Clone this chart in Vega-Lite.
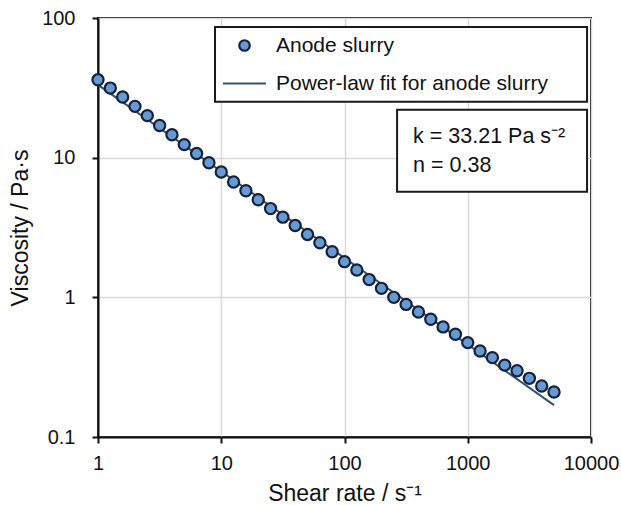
{
  "$schema": "https://vega.github.io/schema/vega-lite/v6.json",
  "width": 493,
  "height": 419,
  "autosize": {"type": "none"},
  "padding": {"left": 98, "top": 18, "right": 30, "bottom": 68},
  "background": "white",
  "config": {
    "font": "Liberation Sans",
    "view": {"stroke": "#111111", "strokeWidth": 2},
    "axis": {
      "labelFont": "Liberation Sans",
      "titleFont": "Liberation Sans",
      "labelFontSize": 20,
      "labelColor": "#111111",
      "titleFontSize": 23,
      "titleFontWeight": "normal",
      "titleColor": "#111111",
      "tickColor": "#111111",
      "tickSize": 6,
      "tickWidth": 2,
      "domainColor": "#111111",
      "domainWidth": 2,
      "gridColor": "#d9d9d9",
      "gridWidth": 1.5,
      "labelFlush": false
    },
    "legend": {
      "orient": "none",
      "legendX": 136,
      "legendY": 17,
      "labelFont": "Liberation Sans",
      "labelFontSize": 21,
      "labelColor": "#111111",
      "symbolSize": 110,
      "symbolStrokeWidth": 2.2,
      "rowPadding": 16,
      "labelOffset": 21,
      "padding": 0,
      "labelLimit": 400
    }
  },
  "datasets": {
    "boxes": [
      {"x": 8.9, "x2": 9290, "y": 86.3, "y2": 25.1},
      {"x": 267, "x2": 9290, "y": 22.0, "y2": 5.71}
    ],
    "fit": [
      {"x": 1, "y": 33.21},
      {"x": 5012, "y": 0.169}
    ],
    "points": [
      {"series": "Anode slurry", "x": 1, "y": 36.1},
      {"series": "Anode slurry", "x": 1.259, "y": 31.5},
      {"series": "Anode slurry", "x": 1.585, "y": 27.2},
      {"series": "Anode slurry", "x": 1.995, "y": 23.3},
      {"series": "Anode slurry", "x": 2.512, "y": 20.0},
      {"series": "Anode slurry", "x": 3.162, "y": 17.0},
      {"series": "Anode slurry", "x": 3.981, "y": 14.6},
      {"series": "Anode slurry", "x": 5.012, "y": 12.4},
      {"series": "Anode slurry", "x": 6.31, "y": 10.7},
      {"series": "Anode slurry", "x": 7.943, "y": 9.2},
      {"series": "Anode slurry", "x": 10, "y": 7.9},
      {"series": "Anode slurry", "x": 12.59, "y": 6.7},
      {"series": "Anode slurry", "x": 15.85, "y": 5.8},
      {"series": "Anode slurry", "x": 19.95, "y": 5.0},
      {"series": "Anode slurry", "x": 25.12, "y": 4.32},
      {"series": "Anode slurry", "x": 31.62, "y": 3.75},
      {"series": "Anode slurry", "x": 39.81, "y": 3.27},
      {"series": "Anode slurry", "x": 50.12, "y": 2.82},
      {"series": "Anode slurry", "x": 63.1, "y": 2.46},
      {"series": "Anode slurry", "x": 79.43, "y": 2.12},
      {"series": "Anode slurry", "x": 100, "y": 1.8},
      {"series": "Anode slurry", "x": 125.9, "y": 1.57},
      {"series": "Anode slurry", "x": 158.5, "y": 1.34},
      {"series": "Anode slurry", "x": 199.5, "y": 1.16},
      {"series": "Anode slurry", "x": 251.2, "y": 1.0},
      {"series": "Anode slurry", "x": 316.2, "y": 0.89},
      {"series": "Anode slurry", "x": 398.1, "y": 0.785},
      {"series": "Anode slurry", "x": 501.2, "y": 0.697},
      {"series": "Anode slurry", "x": 631, "y": 0.614},
      {"series": "Anode slurry", "x": 794.3, "y": 0.544},
      {"series": "Anode slurry", "x": 1000, "y": 0.474},
      {"series": "Anode slurry", "x": 1259, "y": 0.413},
      {"series": "Anode slurry", "x": 1585, "y": 0.37},
      {"series": "Anode slurry", "x": 1995, "y": 0.327},
      {"series": "Anode slurry", "x": 2512, "y": 0.298},
      {"series": "Anode slurry", "x": 3162, "y": 0.263},
      {"series": "Anode slurry", "x": 3981, "y": 0.232},
      {"series": "Anode slurry", "x": 5012, "y": 0.21}
    ],
    "notes": [
      {"x": 360, "y": 14.1, "label": "k = 33.21 Pa s⁻²"},
      {"x": 360, "y": 8.77, "label": "n = 0.38"}
    ]
  },
  "encoding": {
    "x": {
      "field": "x",
      "type": "quantitative",
      "scale": {"type": "log", "domain": [1, 10000], "nice": false},
      "axis": {
        "title": "Shear rate / s⁻¹",
        "values": [1, 10, 100, 1000, 10000],
        "format": "~g",
        "labelPadding": 10,
        "titlePadding": 9
      }
    },
    "y": {
      "field": "y",
      "type": "quantitative",
      "scale": {"type": "log", "domain": [0.1, 100], "nice": false},
      "axis": {
        "title": "Viscosity / Pa·s",
        "values": [0.1, 1, 10, 100],
        "format": "~g",
        "labelPadding": 17,
        "titlePadding": 9
      }
    }
  },
  "layer": [
    {
      "data": {"name": "boxes"},
      "mark": {"type": "rect", "fill": "white", "stroke": "#1a1a1a", "strokeWidth": 2},
      "encoding": {
        "x2": {"field": "x2"},
        "y2": {"field": "y2"}
      }
    },
    {
      "data": {"name": "fit"},
      "mark": {"type": "line", "color": "#34507a", "strokeWidth": 2},
      "encoding": {}
    },
    {
      "data": {"name": "points"},
      "mark": {"type": "point", "size": 125, "strokeWidth": 2.2, "opacity": 1},
      "encoding": {
        "fill": {
          "field": "series",
          "type": "nominal",
          "scale": {"domain": ["Anode slurry", "Power-law fit for anode slurry"], "range": ["#659ad2", "transparent"]},
          "legend": {"title": null}
        },
        "stroke": {
          "field": "series",
          "type": "nominal",
          "scale": {"domain": ["Anode slurry", "Power-law fit for anode slurry"], "range": ["#15213a", "#34507a"]},
          "legend": {"title": null}
        },
        "shape": {
          "field": "series",
          "type": "nominal",
          "scale": {"domain": ["Anode slurry", "Power-law fit for anode slurry"], "range": ["circle", "M-4.1,0H4.1"]},
          "legend": {"title": null}
        }
      }
    },
    {
      "data": {"name": "notes"},
      "mark": {"type": "text", "align": "left", "baseline": "middle", "fontSize": 21.5, "color": "#111111", "font": "Liberation Sans"},
      "encoding": {
        "text": {"field": "label", "type": "nominal"}
      }
    }
  ]
}
